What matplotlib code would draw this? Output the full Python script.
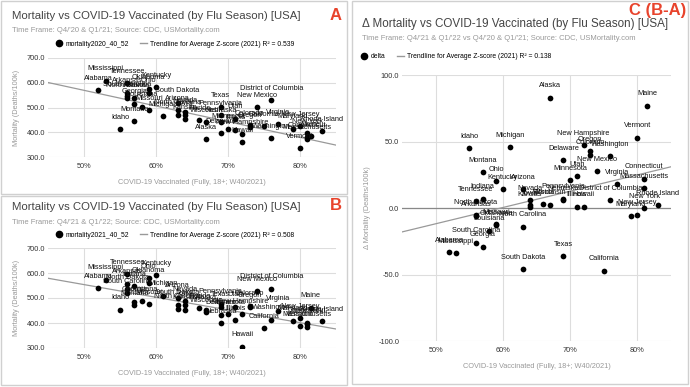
import matplotlib
matplotlib.use("Agg")
import matplotlib.pyplot as plt
from matplotlib.patches import Rectangle
from matplotlib.lines import Line2D
from matplotlib.ticker import FuncFormatter

plt.rcParams['font.family'] = ['Liberation Sans', 'DejaVu Sans']

# states (same x for all three charts)
states = ["Alabama", "Mississippi", "Idaho", "North Dakota", "Arkansas", "South Carolina",
          "Georgia", "Louisiana", "Montana", "Tennessee", "Indiana", "Missouri", "Oklahoma",
          "Ohio", "Kentucky", "Michigan", "Arizona", "North Carolina", "South Dakota",
          "Nevada", "Kansas", "Iowa", "Florida", "Wisconsin", "Alaska", "Texas",
          "Pennsylvania", "Nebraska", "Delaware", "Utah", "Minnesota", "Illinois",
          "New Hampshire", "Hawaii", "Colorado", "Oregon", "Washington", "California",
          "New Mexico", "District of Columbia", "Virginia", "Maryland", "New Jersey",
          "Massachusetts", "Connecticut", "New York", "Rhode Island", "Maine", "Vermont"]

# COVID-19 vaccinated (fully, 18+, W40/2021), percent
vacc = [52, 53, 55, 56, 56, 56, 57, 58, 57, 56, 57, 59, 59, 59, 60, 61, 63, 63, 63,
        64, 64, 64, 66, 67, 67, 69, 69, 69, 69, 71, 70, 71, 72, 72, 73, 73, 76, 75,
        74, 76, 77, 79, 80, 81, 81, 81, 83, 81.5, 80]

# A: mortality Q4'20 & Q1'21 (deaths/100k)
mort_2020 = [571, 608, 412, 540, 560, 545, 515, 504, 445, 598, 540, 488, 575, 560, 581,
             464, 488, 471, 520, 481, 452, 470, 448, 441, 371, 501, 470, 440, 397, 455,
             415, 410, 391, 361, 430, 420, 375, 426, 501, 531, 432, 415, 425, 371, 380,
             397, 405, 384, 335]

# B: mortality Q4'21 & Q1'22 (deaths/100k)
mort_2021 = [540, 573, 454, 535, 557, 519, 486, 487, 472, 595, 547, 476, 562, 580, 591,
             510, 502, 457, 474, 487, 453, 472, 459, 443, 454, 465, 477, 400, 433, 465,
             436, 411, 438, 305, 470, 463, 414, 379, 528, 537, 450, 409, 420, 386, 402,
             397, 407, 461, 388]

# C: delta (B - A)
delta = [-33, -34, 45, -5, -6, -26, -29, -17, 27, 5, 7, -12, -13, 20, 14, 46, 14, -14,
         -46, 6, 1, 2, 3, 2.5, 83, -36, 7, 6, 36, 24, 21, 1, 47, 1, 40, 43, 39, -47,
         27.5, 6, 18, -6, -5, 15, 22, 0, 2, 77, 53]

# trendlines (end values at 45% and 85%)
trend_x = [45, 85]
trend_a = [601, 348]
trend_b = [579, 376]
trend_c = [-18, 31]

W, H = 690, 387
fig = plt.figure(figsize=(W / 100, H / 100), dpi=100)
fig.patch.set_facecolor('white')

TITLE_C = '#444444'
SUB_C = '#999999'
RED = '#e8432c'


def fx(x):
    return x / W


def fy(y):
    return 1 - y / H


def box(x0, y0, x1, y1):
    fig.patches.append(Rectangle((fx(x0), fy(y1)), fx(x1 - x0), (y1 - y0) / H,
                                 transform=fig.transFigure, fill=False,
                                 edgecolor='#d0d0d0', lw=1))


def panel(rect, xs, ys, trend, ylim, yticks, ylabel, zero=False):
    l, t, r, b = rect
    ax = fig.add_axes([fx(l), fy(b), fx(r - l), (b - t) / H])
    ax.set_xlim(45, 85)
    ax.set_ylim(*ylim)
    ax.set_xticks([50, 60, 70, 80])
    ax.set_yticks(yticks)
    ax.xaxis.set_major_formatter(FuncFormatter(lambda v, p: f"{v:.0f}%"))
    ax.yaxis.set_major_formatter(FuncFormatter(lambda v, p: f"{v:.1f}"))
    ax.grid(True, color='#dddddd', lw=0.8)
    ax.set_axisbelow(True)
    for s in ax.spines.values():
        s.set_visible(False)
    ax.tick_params(axis='y', length=0, labelsize=5.3, colors='#333333', pad=2)
    ax.tick_params(axis='x', length=0, labelsize=5.3, colors='#333333', pad=4)
    if zero:
        ax.axhline(0, color='#888888', lw=0.9, zorder=1)
    ax.plot(trend_x, trend, color='#999999', lw=0.9, zorder=2)
    ax.scatter(xs, ys, s=17, color='black', zorder=3, linewidths=0)
    for name, xv, yv in zip(states, xs, ys):
        ax.annotate(name, (xv, yv), xytext=(0, 8.5), textcoords='offset points',
                    ha='center', va='center', fontsize=5.3, color='#111111',
                    zorder=4, annotation_clip=False)
    ax.set_ylabel(ylabel, fontsize=5.3, color=SUB_C, labelpad=5)
    ax.set_xlabel('COVID-19 Vaccinated (Fully, 18+; W40/2021)', fontsize=5.3,
                  color=SUB_C, labelpad=7)
    return ax


def legend(x, y, series, r2, loc):
    handles = [Line2D([], [], marker='o', color='black', linestyle='none', markersize=4.5),
               Line2D([], [], color='#999999', lw=1)]
    labels = [series, f'Trendline for Average Z-score (2021) R² = {r2}']
    fig.legend(handles, labels, loc=loc, bbox_to_anchor=(fx(x), fy(y)), ncol=2,
               frameon=False, fontsize=4.9, handlelength=1.0, handletextpad=0.5,
               columnspacing=1.6, borderaxespad=0, borderpad=0)


# boxes
box(1, 1, 347, 194)
box(1, 196, 347, 385)
box(352, 1, 688, 384)

# panel A
fig.text(fx(12), fy(16), 'Mortality vs COVID-19 Vaccinated (by Flu Season) [USA]',
         fontsize=8.2, color=TITLE_C, va='center')
fig.text(fx(12), fy(31), "Time Frame: Q4/'20 & Q1/'21; Source: CDC, USMortality.com",
         fontsize=5.5, color=SUB_C, va='center')
fig.text(fx(336), fy(15), 'A', fontsize=12, color=RED, fontweight='bold',
         ha='center', va='center')
legend(175, 44, 'mortality2020_40_52', '0.539', 'center')
panel((48, 58, 336, 157), vacc, mort_2020, trend_a, (300, 700),
      [300, 400, 500, 600, 700], 'Mortality (Deaths/100k)')

# panel B
fig.text(fx(12), fy(207), 'Mortality vs COVID-19 Vaccinated (by Flu Season) [USA]',
         fontsize=8.2, color=TITLE_C, va='center')
fig.text(fx(12), fy(222), "Time Frame: Q4/'21 & Q1/'22; Source: CDC, USMortality.com",
         fontsize=5.5, color=SUB_C, va='center')
fig.text(fx(336), fy(206), 'B', fontsize=12, color=RED, fontweight='bold',
         ha='center', va='center')
legend(175, 235, 'mortality2021_40_52', '0.508', 'center')
panel((48, 248, 336, 348), vacc, mort_2021, trend_b, (300, 700),
      [300, 400, 500, 600, 700], 'Mortality (Deaths/100k)')

# panel C
fig.text(fx(362), fy(24), 'Δ Mortality vs COVID-19 Vaccinated (by Flu Season) [USA]',
         fontsize=8.4, color=TITLE_C, va='center')
fig.text(fx(362), fy(38),
         "Time Frame: Q4/'21 & Q1/'22 vs Q4/'20 & Q1/'21; Source: CDC, USMortality.com",
         fontsize=5.5, color=SUB_C, va='center')
fig.text(fx(686), fy(11), 'C (B-A)', fontsize=12, color=RED, fontweight='bold',
         ha='right', va='center')
legend(361, 57, 'delta', '0.138', 'center left')
panel((402, 75, 671, 341), vacc, delta, trend_c, (-100, 100),
      [-100, -50, 0, 50, 100], 'Δ Mortality (Deaths/100k)', zero=True)

fig.savefig('out.png', dpi=100, facecolor='white')
